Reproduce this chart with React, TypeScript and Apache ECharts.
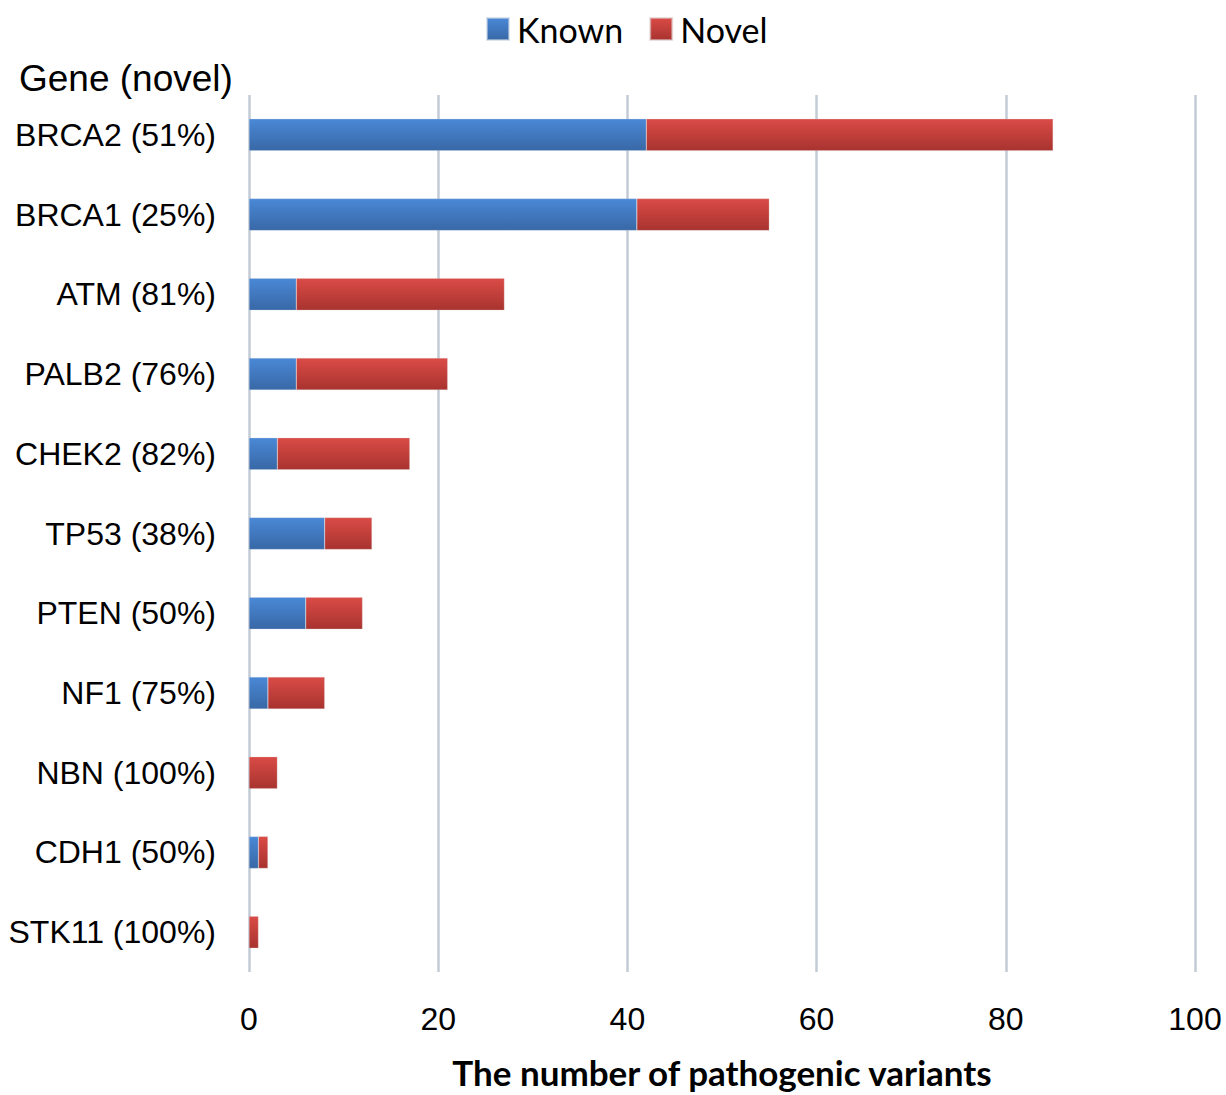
import React, { useEffect, useRef } from "react";
import * as echarts from "echarts";

const genes = [
  "BRCA2 (51%)",
  "BRCA1 (25%)",
  "ATM (81%)",
  "PALB2 (76%)",
  "CHEK2 (82%)",
  "TP53 (38%)",
  "PTEN (50%)",
  "NF1 (75%)",
  "NBN (100%)",
  "CDH1 (50%)",
  "STK11 (100%)",
];
const known = [42, 41, 5, 5, 3, 8, 6, 2, 0, 1, 0];
const novel = [43, 14, 22, 16, 14, 5, 6, 6, 3, 1, 1];
const xTicks = [0, 20, 40, 60, 80, 100];

const grad = (top: string, bottom: string) =>
  new echarts.graphic.LinearGradient(0, 0, 0, 1, [
    { offset: 0, color: top },
    { offset: 1, color: bottom },
  ]);

export default function App() {
  const ref = useRef<HTMLDivElement>(null);
  useEffect(() => {
    if (!ref.current) return;
    const chart = echarts.init(ref.current, null, { renderer: "svg" });
    chart.setOption({
      animation: false,
      backgroundColor: "#ffffff",
      legend: {
        top: 7,
        left: 481,
        itemWidth: 22,
        itemHeight: 22,
        itemGap: 26,
        icon: "rect",
        textStyle: {
          fontFamily: "Lato",
          fontSize: 34,
          color: "#000",
          padding: [0, 0, 0, 3],
        },
        data: ["Known", "Novel"],
      },
      title: {
        text: "Gene (novel)",
        left: 14,
        top: 55,
        textStyle: {
          fontFamily: "Liberation Sans",
          fontSize: 37,
          fontWeight: "normal",
          color: "#000",
        },
      },
      grid: {
        left: 249,
        width: 946,
        top: 95,
        height: 877,
        containLabel: false,
        outerBoundsMode: "none",
      },
      xAxis: {
        type: "value",
        min: xTicks[0],
        max: xTicks[xTicks.length - 1],
        interval: 20,
        axisLine: { show: false },
        axisTick: { show: false },
        axisLabel: {
          fontFamily: "Liberation Sans",
          fontSize: 32,
          color: "#000",
          margin: 31,
        },
        splitLine: {
          show: true,
          lineStyle: { color: "#c3cbd6", width: 2.5 },
        },
        name: "The number of pathogenic variants",
        nameLocation: "middle",
        nameGap: 82,
        nameTextStyle: {
          fontFamily: "Lato",
          fontWeight: "bold",
          fontSize: 35,
          color: "#000",
        },
      },
      yAxis: {
        type: "category",
        inverse: true,
        data: genes,
        axisLine: { show: false },
        axisTick: { show: false },
        axisLabel: {
          fontFamily: "Liberation Sans",
          fontSize: 32,
          color: "#000",
          margin: 33,
        },
      },
      series: [
        {
          name: "Known",
          type: "bar",
          stack: "total",
          barWidth: 32,
          data: known,
          itemStyle: {
            color: grad("#4a88d6", "#3868a6"),
            borderColor: "rgba(200,210,225,0.6)",
            borderWidth: 0.5,
          },
        },
        {
          name: "Novel",
          type: "bar",
          stack: "total",
          barWidth: 32,
          data: novel,
          itemStyle: {
            color: grad("#da4b46", "#a8332f"),
            borderColor: "rgba(220,200,200,0.6)",
            borderWidth: 0.5,
          },
        },
      ],
    });
    return () => chart.dispose();
  }, []);
  return (
    <div
      ref={ref}
      style={{ position: "fixed", left: 0, top: 0, width: 1226, height: 1095 }}
    />
  );
}
